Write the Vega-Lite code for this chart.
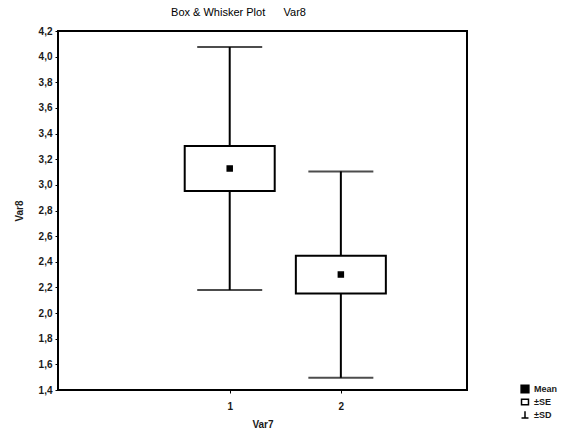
{
  "$schema": "https://vega.github.io/schema/vega-lite/v6.json",
  "width": 409,
  "height": 359,
  "autosize": {"type": "none"},
  "padding": {"left": 58, "top": 31, "right": 102, "bottom": 46},
  "background": "white",
  "config": {
    "font": "Liberation Sans",
    "view": {"stroke": "black", "strokeWidth": 2},
    "axis": {"grid": false, "domain": false, "tickColor": "black", "tickSize": 3, "labelColor": "#1a1a1a", "titleColor": "#1a1a1a", "labelFontSize": 10, "titleFontSize": 10, "labelFont": "Liberation Sans", "titleFont": "Liberation Sans", "labelFontWeight": "bold", "titleFontWeight": "bold", "labelOverlap": false}
  },
  "title": {"text": "Box & Whisker Plot\u00a0\u00a0\u00a0\u00a0\u00a0\u00a0Var8", "fontSize": 11, "fontWeight": "normal", "font": "Liberation Sans", "color": "black", "anchor": "middle", "dx": -24, "offset": 8},
  "data": {"values": [
    {"group": 1, "mean": 3.128, "se_lo": 2.953, "se_hi": 3.303, "sd_lo": 2.18, "sd_hi": 4.075, "stat": "Mean"},
    {"group": 2, "mean": 2.300, "se_lo": 2.152, "se_hi": 2.448, "sd_lo": 1.495, "sd_hi": 3.105, "stat": "Mean"}
  ]},
  "encoding": {
    "x": {"field": "group", "type": "quantitative", "scale": {"domain": [-0.5, 3.09], "nice": false, "zero": false},
      "axis": {"values": [1, 2], "format": "d", "title": "Var7", "labelPadding": 8, "titlePadding": 8}},
    "y": {"field": "mean", "type": "quantitative", "scale": {"domain": [1.4, 4.2], "nice": false, "zero": false},
      "axis": {"values": [1.4, 1.6, 1.8, 2.0, 2.2, 2.4, 2.6, 2.8, 3.0, 3.2, 3.4, 3.6, 3.8, 4.0, 4.2], "labelExpr": "replace(format(datum.value, '.1f'), '.', ',')", "title": "Var8", "titlePadding": 14, "labelPadding": 3, "labelOverlap": false}}
  },
  "layer": [
    {"mark": {"type": "rule", "color": "black", "strokeWidth": 2},
     "encoding": {"y": {"field": "sd_lo", "type": "quantitative", "scale": {"domain": [1.4, 4.2], "nice": false, "zero": false},
       "axis": {"values": [1.4, 1.6, 1.8, 2.0, 2.2, 2.4, 2.6, 2.8, 3.0, 3.2, 3.4, 3.6, 3.8, 4.0, 4.2], "labelExpr": "replace(format(datum.value, '.1f'), '.', ',')", "title": "Var8", "titlePadding": 14, "labelPadding": 3, "labelOverlap": false}},
       "y2": {"field": "sd_hi"}}},
    {"mark": {"type": "tick", "orient": "horizontal", "color": "black", "size": 65, "thickness": 2},
     "encoding": {"y": {"field": "sd_lo", "type": "quantitative", "scale": {"domain": [1.4, 4.2], "nice": false, "zero": false},
       "axis": {"values": [1.4, 1.6, 1.8, 2.0, 2.2, 2.4, 2.6, 2.8, 3.0, 3.2, 3.4, 3.6, 3.8, 4.0, 4.2], "labelExpr": "replace(format(datum.value, '.1f'), '.', ',')", "title": "Var8", "titlePadding": 14, "labelPadding": 3, "labelOverlap": false}}}},
    {"mark": {"type": "tick", "orient": "horizontal", "color": "black", "size": 65, "thickness": 2},
     "encoding": {"y": {"field": "sd_hi", "type": "quantitative", "scale": {"domain": [1.4, 4.2], "nice": false, "zero": false},
       "axis": {"values": [1.4, 1.6, 1.8, 2.0, 2.2, 2.4, 2.6, 2.8, 3.0, 3.2, 3.4, 3.6, 3.8, 4.0, 4.2], "labelExpr": "replace(format(datum.value, '.1f'), '.', ',')", "title": "Var8", "titlePadding": 14, "labelPadding": 3, "labelOverlap": false}}}},
    {"mark": {"type": "bar", "fill": "white", "stroke": "black", "strokeWidth": 2, "size": 90},
     "encoding": {"y": {"field": "se_lo", "type": "quantitative", "scale": {"domain": [1.4, 4.2], "nice": false, "zero": false},
       "axis": {"values": [1.4, 1.6, 1.8, 2.0, 2.2, 2.4, 2.6, 2.8, 3.0, 3.2, 3.4, 3.6, 3.8, 4.0, 4.2], "labelExpr": "replace(format(datum.value, '.1f'), '.', ',')", "title": "Var8", "titlePadding": 14, "labelPadding": 3, "labelOverlap": false}}, "y2": {"field": "se_hi"}}},
    {"mark": {"type": "point", "filled": true, "size": 25, "opacity": 1, "strokeWidth": 1.5},
     "encoding": {
       "shape": {"field": "stat", "type": "nominal",
         "scale": {"domain": ["Mean", "±SE", "±SD"], "range": ["square", "M-0.9,-0.7H0.9V0.7H-0.9Z", "M0,-1V0.8M-0.9,0.8H0.9"]},
         "legend": {"title": null, "orient": "none", "legendX": 462, "legendY": 353, "symbolSize": 60, "rowPadding": 0, "labelFontSize": 9, "labelFontWeight": "bold", "labelColor": "#1a1a1a", "labelOffset": 4, "symbolStrokeWidth": 1.5}},
       "fill": {"field": "stat", "type": "nominal",
         "scale": {"domain": ["Mean", "±SE", "±SD"], "range": ["black", "white", "transparent"]},
         "legend": {"title": null, "orient": "none", "legendX": 462, "legendY": 353, "symbolSize": 60, "rowPadding": 0, "labelFontSize": 9, "labelFontWeight": "bold", "labelColor": "#1a1a1a", "labelOffset": 4, "symbolStrokeWidth": 1.5}},
       "stroke": {"field": "stat", "type": "nominal",
         "scale": {"domain": ["Mean", "±SE", "±SD"], "range": ["black", "black", "black"]},
         "legend": {"title": null, "orient": "none", "legendX": 462, "legendY": 353, "symbolSize": 60, "rowPadding": 0, "labelFontSize": 9, "labelFontWeight": "bold", "labelColor": "#1a1a1a", "labelOffset": 4, "symbolStrokeWidth": 1.5}}
     }}
  ]
}
